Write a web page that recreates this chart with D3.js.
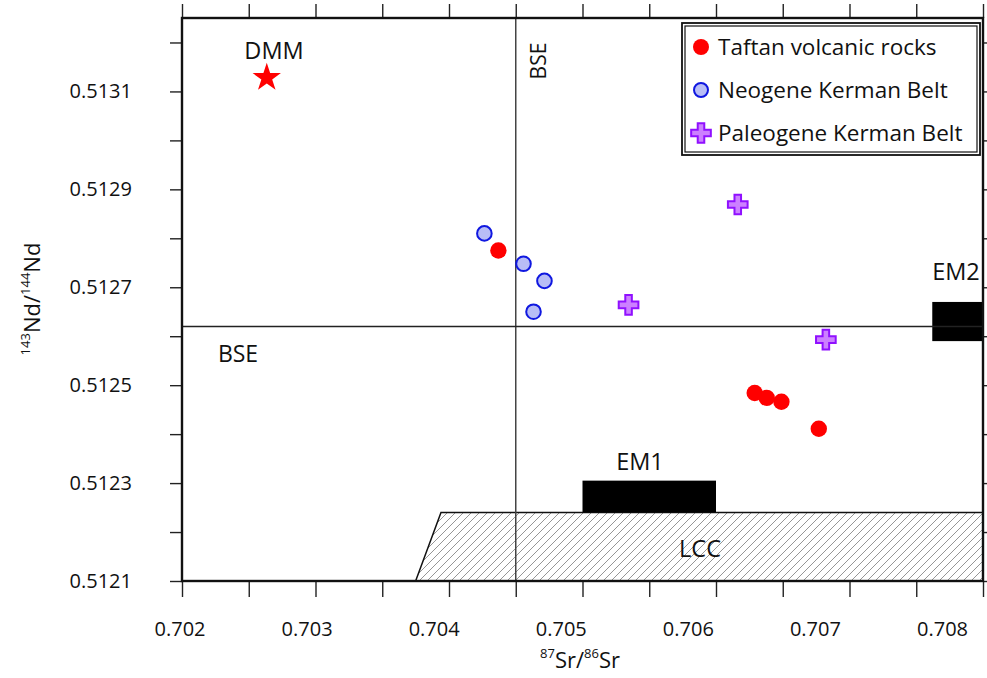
<!DOCTYPE html>
<html>
<head>
<meta charset="utf-8">
<script src="https://cdn.jsdelivr.net/npm/d3@7"></script>
<style>
  body { margin: 0; background: #fff; }
  text { font-family: "Open Sans", "DejaVu Sans", sans-serif; fill: #111; }
</style>
</head>
<body>
<div class="chart"></div>
<script>
// values: [87Sr/86Sr, 143Nd/144Nd]
var taftan = [[0.70437, 0.512775], [0.70629, 0.512484], [0.70638, 0.512474], [0.70649, 0.512466], [0.70677, 0.512411]];
var neogene = [[0.704265, 0.51281], [0.704558, 0.512748], [0.704715, 0.512713], [0.704633, 0.51265]];
var paleogene = [[0.706163, 0.512869], [0.705345, 0.512664], [0.706823, 0.512593]];
var dmm = [0.702635, 0.513128];
var bse = [0.7045, 0.51262];
var em1 = [[0.705, 0.51224], [0.706, 0.512305]];
var em2 = [[0.70762, 0.51259], [0.708, 0.51267]];
var lcc = [[0.70375, 0.5121], [0.70394, 0.51224], [0.708, 0.51224], [0.708, 0.5121]];

var srTicks = [0.702, 0.7025, 0.703, 0.7035, 0.704, 0.7045, 0.705, 0.7055, 0.706, 0.7065, 0.707, 0.7075, 0.708];
var srLabels = [0.702, 0.703, 0.704, 0.705, 0.706, 0.707, 0.708];
var ndTicks = [0.5121, 0.5122, 0.5123, 0.5124, 0.5125, 0.5126, 0.5127, 0.5128, 0.5129, 0.513, 0.5131, 0.5132];
var ndLabels = [0.5121, 0.5123, 0.5125, 0.5127, 0.5129, 0.5131];

var legendItems = ['Taftan volcanic rocks', 'Neogene Kerman Belt', 'Paleogene Kerman Belt'];

const width = 987, height = 678;
const pLeft = 182, pRight = 983, pTop = 18, pBottom = 581;

var svg = d3.select('.chart')
  .append('svg')
    .attr('width', width)
    .attr('height', height);

var x = d3.scaleLinear().domain([0.702, 0.708]).range([pLeft, pRight]);
var y = d3.scaleLinear().domain([0.5121, 0.51325]).range([pBottom, pTop]);
// the printed x labels sit slightly off their ticks in the original figure
var xLabel = d3.scaleLinear().domain([0.702, 0.708]).range([179.5, 942]);

// hatch pattern for LCC
var defs = svg.append('defs');
defs.append('pattern')
    .attr('id', 'hatch')
    .attr('patternUnits', 'userSpaceOnUse')
    .attr('width', 8)
    .attr('height', 8)
  .append('path')
    .attr('d', 'M-2,2 l4,-4 M0,8 l8,-8 M6,10 l4,-4')
    .attr('stroke', '#8a8a8a')
    .attr('stroke-width', 0.9);

var line = d3.line().x(d => x(d[0])).y(d => y(d[1]));

svg.append('path')
    .attr('d', line(lcc) + 'Z')
    .attr('fill', 'url(#hatch)')
    .attr('stroke', '#111')
    .attr('stroke-width', 1.5);

[em1, em2].forEach(function (b) {
  svg.append('rect')
      .attr('x', x(b[0][0]))
      .attr('y', y(b[1][1]))
      .attr('width', x(b[1][0]) - x(b[0][0]))
      .attr('height', y(b[0][1]) - y(b[1][1]))
      .attr('fill', '#000');
});

// BSE reference lines
svg.append('line')
    .attr('x1', x(bse[0])).attr('x2', x(bse[0]))
    .attr('y1', pTop).attr('y2', pBottom)
    .attr('stroke', '#444').attr('stroke-width', 1.5);
svg.append('line')
    .attr('x1', pLeft).attr('x2', pRight)
    .attr('y1', y(bse[1])).attr('y2', y(bse[1]))
    .attr('stroke', '#222').attr('stroke-width', 1.6);

// axes
function styleAxis(g) {
  g.select('.domain').remove();
  g.selectAll('line').attr('stroke', '#222').attr('stroke-width', 1.4);
}

svg.append('g')
    .attr('transform', `translate(${pLeft},0)`)
    .call(d3.axisLeft(y).tickValues(ndTicks).tickSize(12).tickPadding(38)
      .tickFormat(d => ndLabels.some(v => Math.abs(v - d) < 1e-7) ? d3.format('.4f')(d) : ''))
    .call(styleAxis)
    .selectAll('text').attr('font-size', 20).attr('fill', '#111');

svg.append('g')
    .attr('transform', `translate(${pRight},0)`)
    .call(d3.axisRight(y).tickValues(ndTicks).tickSize(12).tickFormat(''))
    .call(styleAxis);

svg.append('g')
    .attr('transform', `translate(0,${pBottom})`)
    .call(d3.axisBottom(x).tickValues(srTicks).tickSize(16).tickFormat(''))
    .call(styleAxis);

svg.append('g')
    .attr('transform', `translate(0,${pTop})`)
    .call(d3.axisTop(x).tickValues(srTicks).tickSize(14).tickFormat(''))
    .call(styleAxis);

svg.append('g')
    .attr('transform', `translate(0,${pBottom})`)
    .call(d3.axisBottom(xLabel).tickValues(srLabels).tickSize(0).tickPadding(41)
      .tickFormat(d3.format('.3f')))
    .call(styleAxis)
    .selectAll('text').attr('font-size', 20).attr('fill', '#111');

// frame
svg.append('rect')
    .attr('x', pLeft).attr('y', pTop)
    .attr('width', pRight - pLeft).attr('height', pBottom - pTop)
    .attr('fill', 'none').attr('stroke', '#111').attr('stroke-width', 2.4);

// labels inside the plot
function label(txt, px, py, size) {
  return svg.append('text')
      .attr('x', px).attr('y', py)
      .attr('text-anchor', 'middle')
      .attr('font-size', size)
      .text(txt);
}
label('DMM', 274, 59, 23.5);
label('BSE', 238, 362, 23);
label('EM2', 956, 280, 23.5);
label('EM1', 640, 470, 23.5);
label('LCC', 700, 557, 23.5);
svg.append('text')
    .attr('transform', 'translate(546,61) rotate(-90)')
    .attr('text-anchor', 'middle')
    .attr('font-size', 21)
    .text('BSE');

// symbols
var star = d3.symbol().type(d3.symbolStar).size(250);
var cross = d3.symbol().type(d3.symbolCross).size(215);

svg.append('path')
    .attr('d', star())
    .attr('transform', `translate(${x(dmm[0])},${y(dmm[1])})`)
    .attr('fill', '#ff0000');

svg.selectAll('.neo')
  .data(neogene)
  .enter().append('circle')
    .attr('cx', d => x(d[0]))
    .attr('cy', d => y(d[1]))
    .attr('r', 7.3)
    .attr('fill', '#b8bdf6')
    .attr('stroke', '#1018e0')
    .attr('stroke-width', 2);

svg.selectAll('.taf')
  .data(taftan)
  .enter().append('circle')
    .attr('cx', d => x(d[0]))
    .attr('cy', d => y(d[1]))
    .attr('r', 8.2)
    .attr('fill', '#ff0000');

svg.selectAll('.pal')
  .data(paleogene)
  .enter().append('path')
    .attr('d', cross())
    .attr('transform', d => `translate(${x(d[0])},${y(d[1])})`)
    .attr('fill', '#cc80ff')
    .attr('stroke', '#9010ff')
    .attr('stroke-width', 2);

// legend
var lg = svg.append('g');
lg.append('rect')
    .attr('x', 682).attr('y', 23).attr('width', 298).attr('height', 132)
    .attr('fill', '#fff').attr('stroke', '#111').attr('stroke-width', 1.8);
lg.append('rect')
    .attr('x', 685).attr('y', 26).attr('width', 292).attr('height', 126)
    .attr('fill', 'none').attr('stroke', '#111').attr('stroke-width', 1.2);

var rowY = [47, 90, 133];
lg.append('circle').attr('cx', 701).attr('cy', rowY[0]).attr('r', 8)
    .attr('fill', '#ff0000');
lg.append('circle').attr('cx', 701).attr('cy', rowY[1]).attr('r', 7)
    .attr('fill', '#b8bdf6').attr('stroke', '#1018e0').attr('stroke-width', 2);
lg.append('path').attr('d', cross())
    .attr('transform', `translate(701,${rowY[2]})`)
    .attr('fill', '#cc80ff').attr('stroke', '#9010ff').attr('stroke-width', 2);

lg.selectAll('.lt')
  .data(legendItems)
  .enter().append('text')
    .attr('x', 718)
    .attr('y', (d, i) => rowY[i] + 8)
    .attr('font-size', 22.5)
    .text(d => d);

// axis titles
var xt = svg.append('text')
    .attr('x', 580).attr('y', 668)
    .attr('text-anchor', 'middle')
    .attr('font-size', 22);
xt.append('tspan').attr('font-size', 13).attr('dy', -10).text('87');
xt.append('tspan').attr('dy', 10).text('Sr/');
xt.append('tspan').attr('font-size', 13).attr('dy', -10).text('86');
xt.append('tspan').attr('dy', 10).text('Sr');

var yt = svg.append('text')
    .attr('transform', 'translate(40,299) rotate(-90)')
    .attr('text-anchor', 'middle')
    .attr('font-size', 22);
yt.append('tspan').attr('font-size', 13).attr('dy', -10).text('143');
yt.append('tspan').attr('dy', 10).text('Nd/');
yt.append('tspan').attr('font-size', 13).attr('dy', -10).text('144');
yt.append('tspan').attr('dy', 10).text('Nd');
</script>
</body>
</html>
